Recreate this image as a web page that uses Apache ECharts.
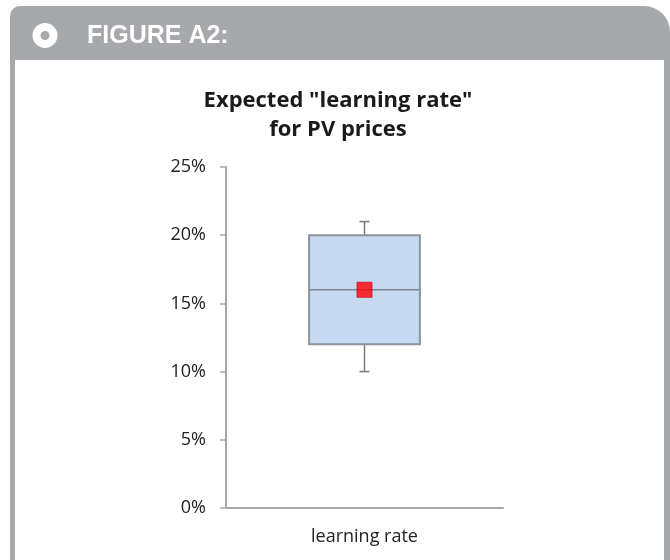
<!DOCTYPE html>
<html>
<head>
<meta charset="utf-8">
<script src="https://cdn.jsdelivr.net/npm/echarts@6/dist/echarts.min.js"></script>
<style>
  html, body { margin: 0; padding: 0; background: #fff; }
  #chart { width: 670px; height: 560px; }
</style>
</head>
<body>
<div id="chart"></div>
<script>
// box stats (percent)
var categories = ['learning rate'];
var lowWhisker = [10];
var q1 = [12];
var median = [16];
var q3 = [20];
var highWhisker = [21];
var meanValues = [16];
var yTicks = [0, 5, 10, 15, 20, 25];

var chart = echarts.init(document.getElementById('chart'));

var boxData = categories.map(function (c, i) {
  return [i, lowWhisker[i], q1[i], median[i], q3[i], highWhisker[i]];
});
var meanData = categories.map(function (c, i) {
  return [i, meanValues[i]];
});

function renderBox(params, api) {
  var x = api.value(0);
  var pLow = api.coord([x, api.value(1)]);
  var pQ1 = api.coord([x, api.value(2)]);
  var pMed = api.coord([x, api.value(3)]);
  var pQ3 = api.coord([x, api.value(4)]);
  var pHigh = api.coord([x, api.value(5)]);
  var halfW = api.size([1, 0])[0] * 0.2;
  var cap = 5;
  var cx = pMed[0];
  var wStyle = { stroke: '#7a7a7a', lineWidth: 1.5 };
  return {
    type: 'group',
    children: [
      { type: 'line', shape: { x1: cx, y1: pHigh[1], x2: cx, y2: pQ3[1] }, style: wStyle },
      { type: 'line', shape: { x1: cx - cap, y1: pHigh[1], x2: cx + cap, y2: pHigh[1] }, style: wStyle },
      { type: 'line', shape: { x1: cx, y1: pQ1[1], x2: cx, y2: pLow[1] }, style: wStyle },
      { type: 'line', shape: { x1: cx - cap, y1: pLow[1], x2: cx + cap, y2: pLow[1] }, style: wStyle },
      {
        type: 'rect',
        shape: { x: cx - halfW, y: pQ3[1], width: halfW * 2, height: pQ1[1] - pQ3[1] },
        style: { fill: '#c6d9f1', stroke: '#8d949c', lineWidth: 2 }
      },
      { type: 'line', shape: { x1: cx - halfW, y1: pMed[1], x2: cx + halfW, y2: pMed[1] }, style: { stroke: '#7f878f', lineWidth: 1.5 } }
    ]
  };
}

var option = {
  animation: false,
  backgroundColor: '#fff',
  graphic: [
    {
      type: 'rect', z: -10, silent: true,
      shape: { x: 10, y: 6, width: 660, height: 560, r: [10, 26, 0, 0] },
      style: { fill: '#a7a8ab' }
    },
    {
      type: 'rect', z: -9, silent: true,
      shape: { x: 15, y: 60, width: 649, height: 510 },
      style: { fill: '#ffffff' }
    },
    {
      type: 'circle', silent: true,
      shape: { cx: 45, cy: 35.5, r: 8.5 },
      style: { fill: 'none', stroke: '#ffffff', lineWidth: 8 }
    },
    {
      type: 'text', silent: true,
      x: 87, y: 36,
      style: {
        text: 'FIGURE A2:',
        fill: '#ffffff',
        font: 'bold 25px "Liberation Sans", Arial, sans-serif',
        verticalAlign: 'middle'
      }
    }
  ],
  title: {
    text: 'Expected "learning rate"\nfor PV prices',
    left: 333,
    top: 81,
    textAlign: 'center',
    textStyle: {
      fontFamily: '"Open Sans", sans-serif',
      fontSize: 22,
      fontWeight: 'bold',
      color: '#1a1a1a',
      lineHeight: 29
    }
  },
  grid: { left: 226, right: 167, top: 167, bottom: 52, containLabel: false },
  xAxis: {
    type: 'category',
    data: categories,
    axisLine: { lineStyle: { color: '#a6a6a6', width: 2 } },
    axisTick: { show: false },
    axisLabel: {
      margin: 20,
      fontFamily: '"Open Sans", sans-serif',
      fontSize: 18,
      color: '#222'
    }
  },
  yAxis: {
    type: 'value',
    min: yTicks[0],
    max: yTicks[yTicks.length - 1],
    interval: 5,
    axisLine: { show: true, lineStyle: { color: '#a6a6a6', width: 2 } },
    axisTick: { show: true, length: 6, lineStyle: { color: '#a6a6a6', width: 1.5 } },
    splitLine: { show: false },
    axisLabel: {
      margin: 20,
      formatter: '{value}%',
      fontFamily: '"Open Sans", sans-serif',
      fontSize: 18,
      color: '#222'
    }
  },
  series: [
    {
      type: 'custom',
      renderItem: renderBox,
      data: boxData,
      encode: { x: 0, y: [1, 2, 3, 4, 5] },
      z: 2
    },
    {
      type: 'scatter',
      data: meanData,
      symbol: 'rect',
      symbolSize: 15,
      itemStyle: { color: '#ff0000', borderColor: '#c8102e', borderWidth: 1 },
      z: 3
    }
  ]
};

chart.setOption(option);
</script>
</body>
</html>
